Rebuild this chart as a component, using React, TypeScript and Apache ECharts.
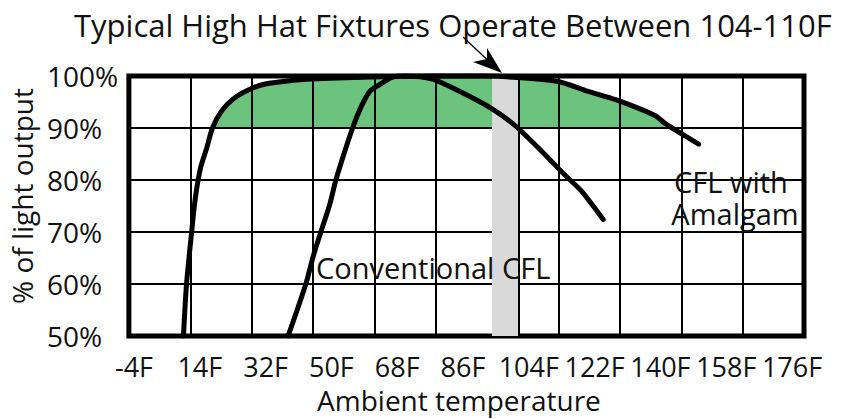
import React, { useEffect, useRef } from "react";
import * as echarts from "echarts";

// ---- data ----
const titleText = "Typical High Hat Fixtures Operate Between 104-110F";
const tempLabels = ["-4F", "14F", "32F", "50F", "68F", "86F", "104F", "122F", "140F", "158F", "176F"];
const yTickValues = [50, 60, 70, 80, 90, 100];

// CFL with Amalgam (temperature in F, % of light output)
const amalgamTemp = [12.0, 12.9, 14.4, 15.5, 17.0, 18.8, 20.5, 23.1, 26.6, 31.6, 36.3, 42.1, 49.4, 67.5, 85.0, 100.0, 110.0, 122.2, 129.9, 139.0, 150.3, 153.2, 155.3, 163.1];
const amalgamOutput = [50, 60, 70, 76.6, 82.3, 86.1, 90, 93.2, 95.6, 97.5, 98.5, 99.0, 99.4, 99.8, 100, 100, 99.7, 98.9, 97.2, 95.4, 92.4, 90.9, 90, 86.9];

// Conventional CFL
const convTemp = [42.7, 47.9, 50.0, 52.3, 54.9, 56.7, 59.3, 61.6, 63.0, 64.8, 66.6, 68.9, 73.3, 77.0, 85.0, 92.8, 102.5, 109.2, 116.2, 123.8, 128.7, 135.1];
const convOutput = [50, 60, 65.2, 70, 75.3, 80, 85.5, 90, 92.4, 95, 97, 98.1, 99.8, 100, 99.4, 97.1, 93.7, 90.5, 86.1, 81, 77.9, 72.4];

// typical fixture operating band (F)
const bandRange = [102.5, 110.3];
const fillBase = 90;

const X0 = -4; // left edge of the temperature axis
const X_MAX = 194;
const X_STEP = 18;

const FONT = '"Open Sans", "Noto Sans", sans-serif';
const GREEN = "#6BC37E";
const GRAY = "#D9D9D9";
const INK = "#111111";

export default function App() {
  const ref = useRef<HTMLDivElement>(null);

  useEffect(() => {
    document.body.style.margin = "0";
    if (!ref.current) return;
    const chart = echarts.init(ref.current, undefined, { renderer: "svg" });

    const toX = (t: number) => t - X0;
    const amalgam = amalgamTemp.map((t, i) => [toX(t), amalgamOutput[i]]);
    const conventional = convTemp.map((t, i) => [toX(t), convOutput[i]]);
    const fill = amalgam.filter((p) => p[1] >= fillBase);

    const splitLine = { show: true, lineStyle: { color: "#000", width: 2 } };

    chart.setOption({
      animation: false,
      title: {
        text: titleText,
        left: 74,
        top: 9,
        padding: 0,
        textStyle: { fontFamily: FONT, fontSize: 31, fontWeight: "normal", color: INK },
      },
      grid: [
        { left: 125, right: 44, top: 76, bottom: 79, show: true, borderColor: "#000", borderWidth: 5, backgroundColor: "transparent" },
        { left: 134, right: 56, top: 76, bottom: 79, show: false },
      ],
      xAxis: [
        {
          type: "value",
          gridIndex: 0,
          min: 0,
          max: X_MAX - X0,
          interval: X_STEP,
          axisLabel: { show: false },
          axisTick: { show: false },
          axisLine: { show: false },
          splitLine,
          name: "Ambient temperature",
          nameLocation: "middle",
          nameGap: 50,
          nameTextStyle: { fontFamily: FONT, fontSize: 28, color: INK, padding: [0, 15, 0, 0] },
        },
        {
          type: "category",
          gridIndex: 1,
          data: tempLabels,
          boundaryGap: false,
          axisLine: { show: false },
          axisTick: { show: false },
          splitLine: { show: false },
          axisLabel: { fontFamily: FONT, fontSize: 27, color: INK, margin: 13, interval: 0 },
        },
      ],
      yAxis: [
        {
          type: "value",
          gridIndex: 0,
          min: yTickValues[0],
          max: yTickValues[yTickValues.length - 1],
          interval: yTickValues[1] - yTickValues[0],
          axisLine: { show: false },
          axisTick: { show: false },
          splitLine,
          axisLabel: { formatter: "{value}%", align: "left", margin: 82, fontFamily: FONT, fontSize: 28, color: INK },
          name: "% of light output",
          nameLocation: "middle",
          nameGap: 88,
          nameTextStyle: { fontFamily: FONT, fontSize: 28, color: INK, padding: [0, 0, 0, 20] },
        },
        { type: "value", gridIndex: 1, show: false },
      ],
      series: [
        {
          name: "fill",
          type: "line",
          xAxisIndex: 0,
          yAxisIndex: 0,
          data: fill,
          smooth: 0.25,
          showSymbol: false,
          silent: true,
          z: -1,
          lineStyle: { width: 0 },
          areaStyle: { color: GREEN, opacity: 1, origin: fillBase },
        },
        {
          name: "Conventional CFL",
          type: "line",
          xAxisIndex: 0,
          yAxisIndex: 0,
          data: conventional,
          smooth: 0.25,
          showSymbol: false,
          clip: false,
          z: 3,
          lineStyle: { color: "#000", width: 5, cap: "round", join: "round" },
          markArea: {
            silent: true,
            z: 1,
            itemStyle: { color: GRAY },
            data: [[{ xAxis: toX(bandRange[0]) }, { xAxis: toX(bandRange[1]) }]],
          },
          markLine: {
            silent: true,
            z: 2,
            symbol: "none",
            label: { show: false },
            lineStyle: { color: "#000", width: 2, type: "solid" },
            data: [{ xAxis: toX(bandRange[1]) }],
          },
        },
        {
          name: "CFL with Amalgam",
          type: "line",
          xAxisIndex: 0,
          yAxisIndex: 0,
          data: amalgam,
          smooth: 0.25,
          showSymbol: false,
          clip: false,
          z: 3,
          lineStyle: { color: "#000", width: 5, cap: "round", join: "round" },
        },
      ],
      graphic: [
        { type: "line", z: 10, shape: { x1: 463, y1: 37, x2: 494, y2: 66 }, style: { stroke: "#000", lineWidth: 1.3 } },
        { type: "polygon", z: 10, shape: { points: [[502, 73], [473, 62], [487, 59], [487, 48]] }, style: { fill: "#000" } },
        {
          type: "text",
          z: 10,
          style: { text: "Conventional CFL", x: 316, y: 267, font: `29px ${FONT}`, fill: INK, align: "left", verticalAlign: "middle" },
        },
        {
          type: "text",
          z: 10,
          style: { text: "CFL with", x: 731, y: 181, font: `29px ${FONT}`, fill: INK, align: "center", verticalAlign: "middle" },
        },
        {
          type: "text",
          z: 10,
          style: { text: "Amalgam", x: 735, y: 213, font: `29px ${FONT}`, fill: INK, align: "center", verticalAlign: "middle" },
        },
      ],
    });

    return () => chart.dispose();
  }, []);

  return <div ref={ref} style={{ width: 848, height: 419 }} />;
}
